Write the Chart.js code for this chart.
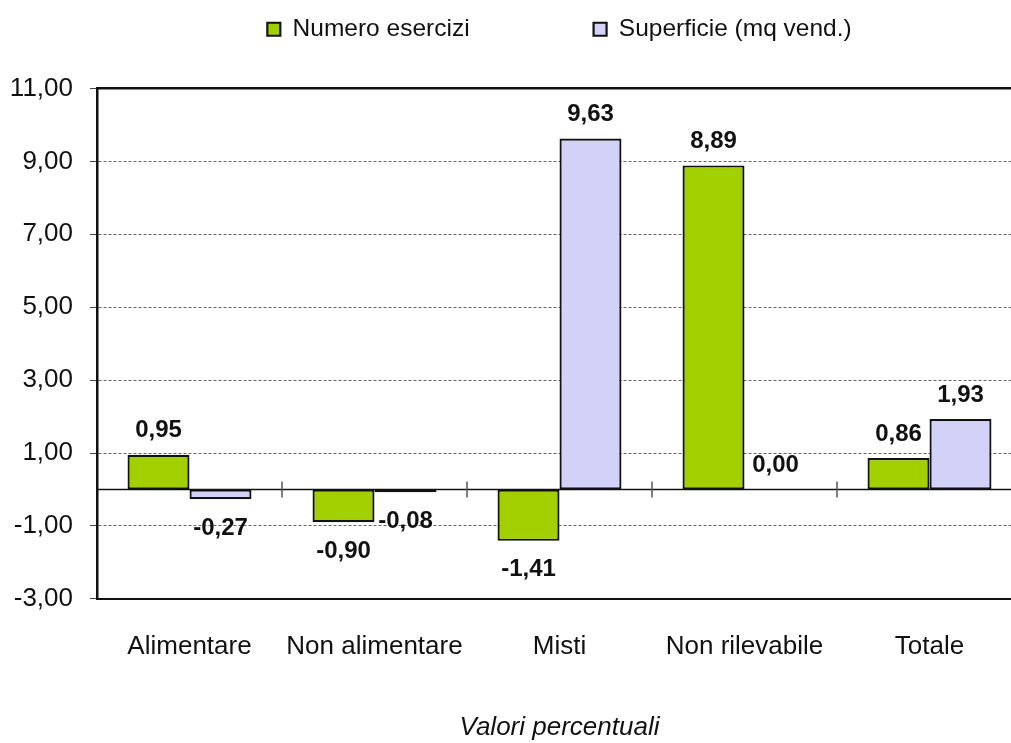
<!DOCTYPE html>
<html>
<head>
<meta charset="utf-8">
<script src="https://cdn.jsdelivr.net/npm/chart.js@4/dist/chart.umd.min.js"></script>
<style>
  html, body { margin: 0; padding: 0; background: #fff; overflow: hidden; }
  #wrap { width: 1040px; height: 743px; position: relative; }
</style>
</head>
<body>
<div id="wrap"><canvas id="c"></canvas></div>
<script>
const categories = ['Alimentare', 'Non alimentare', 'Misti', 'Non rilevabile', 'Totale'];
const seriesNames = ['Numero esercizi', 'Superficie (mq vend.)'];
const numeroEsercizi = [0.95, -0.90, -1.41, 8.89, 0.86];
const superficie = [-0.27, -0.08, 9.63, 0.00, 1.93];
const chartTitle = 'Valori percentuali';
const yMin = -3, yMax = 11, yStep = 2;

const FONT = 'Liberation Sans, Arial, sans-serif';
const fmt = v => Number(v).toFixed(2).replace('.', ',');

const zeroLinePlugin = {
  id: 'zeroLine',
  beforeDatasetsDraw(chart) {
    const {ctx, chartArea, scales} = chart;
    const y0 = scales.y.getPixelForValue(0);
    ctx.save();
    ctx.strokeStyle = '#111';
    ctx.lineWidth = 1.5;
    ctx.beginPath();
    ctx.moveTo(chartArea.left, y0);
    ctx.lineTo(chartArea.right, y0);
    ctx.stroke();
    ctx.strokeStyle = '#555';
    ctx.lineWidth = 1.5;
    for (let i = 0; i < categories.length - 1; i++) {
      const x = (scales.x.getPixelForValue(i) + scales.x.getPixelForValue(i + 1)) / 2;
      ctx.beginPath();
      ctx.moveTo(x, y0 - 8);
      ctx.lineTo(x, y0 + 8);
      ctx.stroke();
    }
    ctx.restore();
  }
};

const valueLabelPlugin = {
  id: 'valueLabels',
  afterDatasetsDraw(chart) {
    const {ctx} = chart;
    ctx.save();
    ctx.font = 'bold 24px ' + FONT;
    ctx.fillStyle = '#111';
    ctx.textAlign = 'center';
    ctx.textBaseline = 'middle';
    chart.data.datasets.forEach((ds, di) => {
      const meta = chart.getDatasetMeta(di);
      meta.data.forEach((bar, i) => {
        const v = ds.data[i];
        const y = v < 0 ? bar.y + 29 : bar.y - 24;
        ctx.fillText(fmt(v), bar.x, y);
      });
    });
    ctx.restore();
  }
};

new Chart(document.getElementById('c'), {
  type: 'bar',
  data: {
    labels: categories,
    datasets: [
      {
        label: seriesNames[0],
        data: numeroEsercizi,
        backgroundColor: '#a2cf00',
        borderColor: '#111',
        borderWidth: 2.2,
        borderSkipped: false
      },
      {
        label: seriesNames[1],
        data: superficie,
        backgroundColor: '#d2d2f8',
        borderColor: '#111',
        borderWidth: 2.2,
        borderSkipped: false
      }
    ]
  },
  options: {
    responsive: true,
    maintainAspectRatio: false,
    animation: false,
    datasets: { bar: { barPercentage: 1, categoryPercentage: 0.67 } },
    layout: { padding: { left: 0, right: 18, top: -107, bottom: 0 } },
    plugins: {
      tooltip: { enabled: false },
      legend: {
        position: 'top',
        fullSize: false,
        labels: {
          font: { family: FONT, size: 24.5 },
          color: '#111',
          boxWidth: 13,
          boxHeight: 13,
          padding: 124
        }
      },
      title: {
        display: true,
        text: chartTitle,
        position: 'bottom',
        fullSize: false,
        color: '#111',
        font: { family: FONT, size: 26, style: 'italic', weight: 'normal' },
        padding: { top: 2, bottom: 0 }
      }
    },
    scales: {
      x: {
        position: 'bottom',
        grid: { display: true, drawOnChartArea: false, drawTicks: false },
        border: { display: true, color: '#111', width: 2 },
        ticks: { font: { family: FONT, size: 26 }, color: '#111', padding: 32, maxRotation: 0 },
        afterFit(scale) { scale.height = 111; }
      },
      xTop: {
        type: 'category',
        labels: categories,
        position: 'top',
        grid: { display: true, drawOnChartArea: false, drawTicks: false },
        border: { display: true, color: '#111', width: 2.5 },
        ticks: { display: false },
        afterFit(scale) { scale.height = 37; }
      },
      y: {
        min: yMin,
        max: yMax,
        ticks: {
          stepSize: yStep,
          font: { family: FONT, size: 26 },
          color: '#111',
          padding: 17,
          callback: v => fmt(v)
        },
        grid: {
          color: c => (c.tick && (c.tick.value === yMax || c.tick.value === yMin)) ? 'rgba(0,0,0,0)' : '#666',
          lineWidth: 1,
          tickLength: 7,
          tickColor: '#444',
          tickWidth: 1
        },
        border: { display: true, color: '#111', width: 2.5, dash: [3, 2] },
        afterFit(scale) { scale.width = 97; }
      }
    }
  },
  plugins: [zeroLinePlugin, valueLabelPlugin]
});
</script>
</body>
</html>
